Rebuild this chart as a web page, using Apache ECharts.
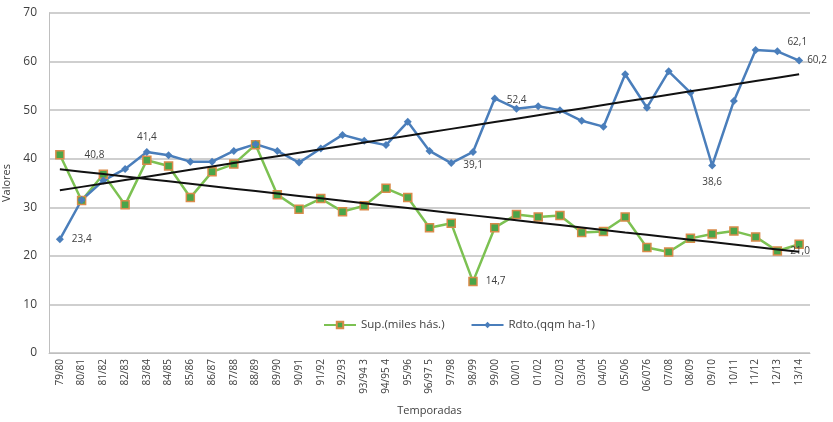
<!DOCTYPE html>
<html>
<head>
<meta charset="utf-8">
<script src="https://cdn.jsdelivr.net/npm/echarts@6/dist/echarts.min.js"></script>
<style>
  html, body { margin: 0; padding: 0; background: #fff; }
  #chart { width: 833px; height: 422px; }
</style>
</head>
<body>
<div id="chart"></div>
<script>
const seasons = ['79/80', '80/81', '81/82', '82/83', '83/84', '84/85', '85/86', '86/87', '87/88', '88/89',
  '89/90', '90/91', '91/92', '92/93', '93/94 3', '94/95 4', '95/96', '96/97 5', '97/98', '98/99',
  '99/00', '00/01', '01/02', '02/03', '03/04', '04/05', '05/06', '06/076', '07/08', '08/09',
  '09/10', '10/11', '11/12', '12/13', '13/14']

const supValues = [40.8, 31.4, 36.8, 30.5, 39.7, 38.5, 32.0, 37.3, 38.9, 42.9,
  32.6, 29.6, 31.8, 29.1, 30.3, 33.9, 32.0, 25.8, 26.7, 14.7,
  25.8, 28.5, 28.0, 28.3, 24.8, 25.0, 28.0, 21.7, 20.8, 23.6,
  24.5, 25.1, 23.9, 21.0, 22.4]

const rdtoValues = [23.4, 31.5, 35.5, 37.9, 41.4, 40.7, 39.4, 39.4, 41.6, 43.0,
  41.6, 39.2, 42.1, 44.9, 43.7, 42.8, 47.6, 41.6, 39.1, 41.4,
  52.4, 50.3, 50.8, 50.0, 47.8, 46.6, 57.4, 50.5, 58.0, 53.6,
  38.6, 51.9, 62.4, 62.1, 60.2]

const yTicks = { min: 0, max: 70, step: 10 }

// indices that carry a data label
const supLabelled = [0, 19, 33]
const rdtoLabelled = [0, 4, 18, 20, 30, 33, 34]

// least squares trend, like Excel's linear trendline
function trend(values) {
  const n = values.length
  let sx = 0, sy = 0, sxy = 0, sxx = 0
  values.forEach((y, x) => { sx += x; sy += y; sxy += x * y; sxx += x * x })
  const b = (n * sxy - sx * sy) / (n * sxx - sx * sx)
  const a = (sy - b * sx) / n
  return values.map((_, x) => +(a + b * x).toFixed(3))
}

const labelPlace = {
  sup: { 0: { position: 'right', distance: 20 }, 19: { position: 'right', distance: 8 }, 33: { position: 'right', distance: 8 } },
  rdto: {
    0: { position: 'right', distance: 8 },
    4: { position: 'top', distance: 6 },
    18: { position: 'right', distance: 8, offset: [0, 2] },
    20: { position: 'right', distance: 8, offset: [0, 2] },
    30: { position: 'bottom', distance: 8 },
    33: { position: 'right', distance: 6, offset: [0, -9] },
    34: { position: 'right', distance: 4 }
  }
}

function withLabels(values, idxs, places) {
  return values.map((v, i) => {
    if (!idxs.includes(i)) return v
    return {
      value: v,
      label: Object.assign({
        show: true,
        color: '#404040',
        fontSize: 10,
        fontFamily: 'Open Sans',
        formatter: p => p.value.toFixed(1).replace('.', ',')
      }, places[i])
    }
  })
}

const chart = echarts.init(document.getElementById('chart'))
chart.setOption({
  animation: false,
  textStyle: { fontFamily: 'Open Sans' },
  grid: { left: 49, right: 23, top: 13, bottom: 69, containLabel: false, outerBoundsMode: 'none' },
  legend: {
    left: 318,
    top: 314,
    itemWidth: 32,
    itemHeight: 8,
    itemGap: 26,
    textStyle: { color: '#404040', fontSize: 11.5 },
    data: ['Sup.(miles hás.)', 'Rdto.(qqm ha-1)']
  },
  xAxis: {
    type: 'category',
    data: seasons,
    boundaryGap: true,
    name: 'Temporadas',
    nameLocation: 'middle',
    nameGap: 52,
    nameTextStyle: { color: '#404040', fontSize: 11 },
    axisLine: { lineStyle: { color: '#bfbfbf' } },
    axisTick: { show: false },
    axisLabel: { rotate: 90, color: '#404040', fontSize: 10, interval: 0, margin: 6 }
  },
  yAxis: {
    type: 'value',
    min: yTicks.min,
    max: yTicks.max,
    interval: yTicks.step,
    name: 'Valores',
    nameLocation: 'middle',
    nameGap: 36,
    nameTextStyle: { color: '#404040', fontSize: 11, padding: [14, 0, 0, 0] },
    axisLine: { show: true, lineStyle: { color: '#bfbfbf' } },
    axisTick: { show: false },
    axisLabel: { color: '#404040', fontSize: 12, margin: 12 },
    splitLine: { lineStyle: { color: '#bfbfbf', width: 1.5 } }
  },
  series: [
    {
      name: 'Sup.(miles hás.)',
      type: 'line',
      data: withLabels(supValues, supLabelled, labelPlace.sup),
      symbol: 'rect',
      symbolSize: 8,
      lineStyle: { color: '#7cc152', width: 2.5 },
      itemStyle: { color: '#4aa548', borderColor: '#d98b4a', borderWidth: 1.5 },
      z: 3
    },
    {
      name: 'Rdto.(qqm ha-1)',
      type: 'line',
      data: withLabels(rdtoValues, rdtoLabelled, labelPlace.rdto),
      symbol: 'diamond',
      symbolSize: 8,
      lineStyle: { color: '#4a7ebb', width: 2.5 },
      itemStyle: { color: '#4a7ebb' },
      z: 3
    },
    {
      name: 'trend sup',
      type: 'line',
      data: trend(supValues),
      symbol: 'none',
      lineStyle: { color: '#111', width: 2 },
      silent: true,
      z: 4
    },
    {
      name: 'trend rdto',
      type: 'line',
      data: trend(rdtoValues),
      symbol: 'none',
      lineStyle: { color: '#111', width: 2 },
      silent: true,
      z: 4
    }
  ]
})
</script>
</body>
</html>
